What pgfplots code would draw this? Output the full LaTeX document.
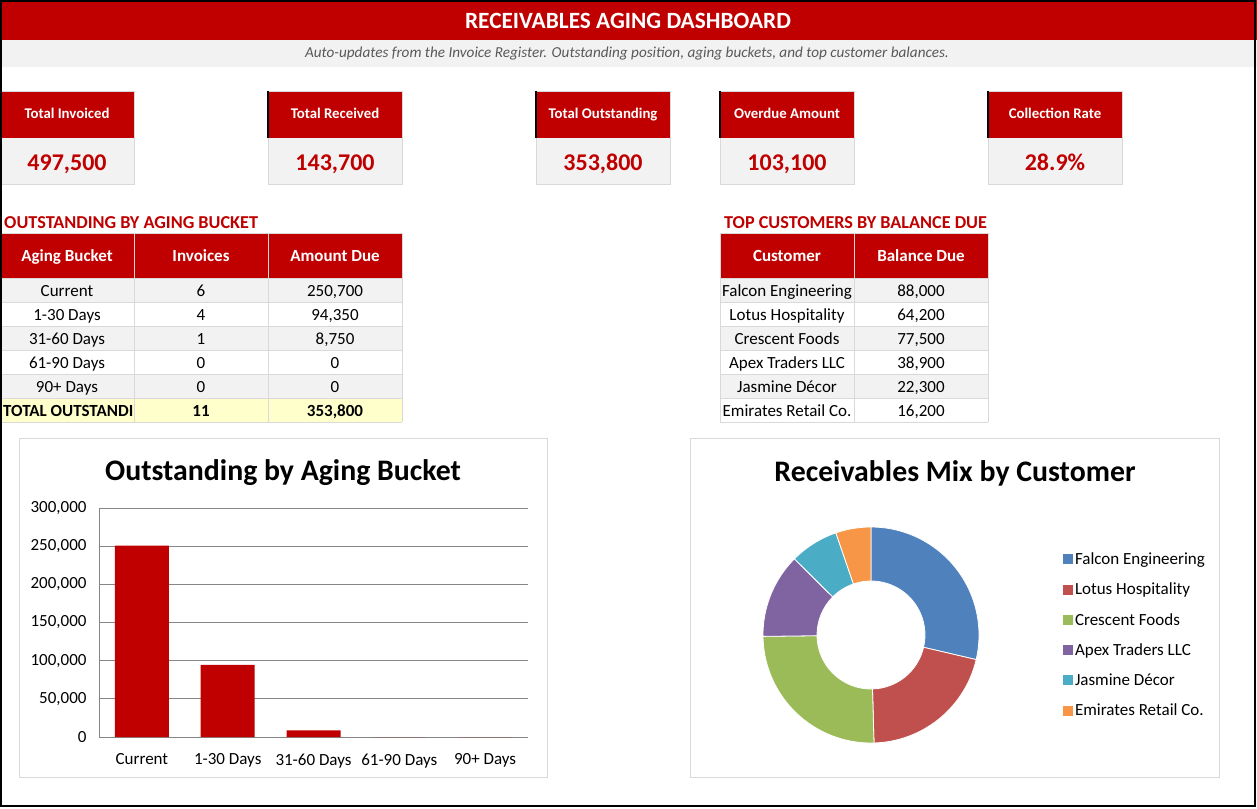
\documentclass[border=0pt]{standalone}
\usepackage{fontspec}
\setmainfont{Carlito}
\usepackage{pgfplots}
\pgfplotsset{compat=1.18}

\definecolor{xred}{HTML}{C00000}
\definecolor{lgray}{HTML}{F2F2F2}
\definecolor{gridc}{HTML}{D9D9D9}
\definecolor{axc}{HTML}{868686}
\definecolor{subt}{HTML}{595959}
\definecolor{tyellow}{HTML}{FFFFCC}
\definecolor{cA}{HTML}{4F81BD}
\definecolor{cB}{HTML}{C0504D}
\definecolor{cC}{HTML}{9BBB59}
\definecolor{cD}{HTML}{8064A2}
\definecolor{cE}{HTML}{4BACC6}
\definecolor{cF}{HTML}{F79646}

\newcommand{\fs}[1]{\fontsize{#1}{#1}\selectfont}

% customer balances (pie data)
\def\vA{88000}
\def\vB{64200}
\def\vC{77500}
\def\vD{38900}
\def\vE{22300}
\def\vF{16200}

\newcommand{\kpi}[3]{%
  \fill[xred] (#1,91) rectangle ++(134,47);
  \fill[lgray] (#1,138) rectangle ++(134,46);
  \draw[gridc] (#1,91) rectangle ++(134,93);
  \node[white,font=\bfseries\fs{14.8},text height=10.5pt,text depth=3pt,inner sep=0pt] at (#1+67,115) {#2};
  \node[xred,font=\bfseries\fs{24},text height=17pt,text depth=4pt,inner sep=0pt] at (#1+67,163.5) {#3};
}

\tikzset{cell/.style={font=\fs{17}, text height=12pt, text depth=3.5pt, inner sep=0pt},
         hcell/.style={cell, font=\bfseries\fs{17}, white}}

\begin{document}
\begin{tikzpicture}
\useasboundingbox (0,0) rectangle (1257pt,-808pt);
\begin{scope}[x=1pt,y=-1pt]
  \fill[white] (0,0) rectangle (1257,808);
  % header
  \fill[xred] (0,0) rectangle (1257,40);
  \node[white,font=\bfseries\fs{23.3}] at (628,21) {RECEIVABLES AGING DASHBOARD};
  \fill[lgray] (0,40) rectangle (1257,67);
  \node[subt,font=\itshape\fs{15.2}] at (627,54) {Auto-updates from the Invoice Register. Outstanding position, aging buckets, and top customer balances.};
  % KPI cards
  \kpi{0}{Total Invoiced}{497,500}
  \kpi{268}{Total Received}{143,700}
  \kpi{536}{Total Outstanding}{353,800}
  \kpi{720}{Overdue Amount}{103,100}
  \kpi{988}{Collection Rate}{28.9\%}
  \foreach \xx in {268,536,720,988} {\draw[black,line width=2pt] (\xx,91) -- (\xx,138);}
  % section titles
  \node[xred,font=\bfseries\fs{18.2},anchor=west,inner sep=0pt] at (4,222.5) {OUTSTANDING BY AGING BUCKET};
  \node[xred,font=\bfseries\fs{18.2},anchor=west,inner sep=0pt] at (724,222.5) {TOP CUSTOMERS BY BALANCE DUE};
  % table 1
  \fill[xred] (0,233) rectangle (402,278);
  \fill[lgray] (0,278) rectangle (402,302);
  \fill[lgray] (0,326) rectangle (402,350);
  \fill[lgray] (0,374) rectangle (402,398);
  \fill[tyellow] (0,398) rectangle (402,422);
  \foreach \yy in {233,278,302,326,350,374,398,422} {\draw[gridc] (0,\yy) -- (402,\yy);}
  \foreach \xx in {134,268,402} {\draw[gridc] (\xx,233) -- (\xx,422);}
  \node[hcell] at (67,257) {Aging Bucket};
  \node[hcell] at (201,257) {Invoices};
  \node[hcell] at (335,257) {Amount Due};
  \node[cell] at (67,292) {Current};     \node[cell] at (201,292) {6}; \node[cell] at (335,292) {250,700};
  \node[cell] at (67,316) {1-30 Days};   \node[cell] at (201,316) {4}; \node[cell] at (335,316) {94,350};
  \node[cell] at (67,340) {31-60 Days};  \node[cell] at (201,340) {1}; \node[cell] at (335,340) {8,750};
  \node[cell] at (67,364) {61-90 Days};  \node[cell] at (201,364) {0}; \node[cell] at (335,364) {0};
  \node[cell] at (67,388) {90+ Days};    \node[cell] at (201,388) {0}; \node[cell] at (335,388) {0};
  \begin{scope}
    \clip (0,399) rectangle (133.5,421);
    \node[cell,font=\bfseries\fs{17},anchor=west] at (3,412) {TOTAL OUTSTANDING};
  \end{scope}
  \node[cell,font=\bfseries\fs{17}] at (201,412) {11};
  \node[cell,font=\bfseries\fs{17}] at (335,412) {353,800};
  % table 2
  \fill[xred] (720,233) rectangle (988,278);
  \fill[lgray] (720,278) rectangle (988,302);
  \fill[lgray] (720,326) rectangle (988,350);
  \fill[lgray] (720,374) rectangle (988,398);
  \foreach \yy in {233,278,302,326,350,374,398,422} {\draw[gridc] (720,\yy) -- (988,\yy);}
  \foreach \xx in {720,854,988} {\draw[gridc] (\xx,233) -- (\xx,422);}
  \node[hcell] at (787,257) {Customer};
  \node[hcell] at (921,257) {Balance Due};
  \node[cell] at (787,292) {Falcon Engineering};  \node[cell] at (921,292) {88,000};
  \node[cell] at (787,316) {Lotus Hospitality};   \node[cell] at (921,316) {64,200};
  \node[cell] at (787,340) {Crescent Foods};      \node[cell] at (921,340) {77,500};
  \node[cell] at (787,364) {Apex Traders LLC};    \node[cell] at (921,364) {38,900};
  \node[cell] at (787,388) {Jasmine Décor};       \node[cell] at (921,388) {22,300};
  \node[cell] at (787,412) {Emirates Retail Co.}; \node[cell] at (921,412) {16,200};
  % chart boxes
  \draw[gridc] (19.5,438.5) rectangle (547.5,777.5);
  \draw[gridc] (690.5,438.5) rectangle (1219.5,777.5);
  \node[font=\bfseries\fs{29.8}] at (283,473) {Outstanding by Aging Bucket};
  \node[font=\bfseries\fs{29.8}] at (955,473) {Receivables Mix by Customer};
  % outer frame
  \draw[black,line width=2pt] (1,1) rectangle (1255,806);
\end{scope}

% bar chart
\begin{axis}[
  at={(99pt,-737pt)}, anchor=south west, scale only axis,
  width=429pt, height=229pt,
  xmin=-0.5, xmax=4.5, ymin=0, ymax=300000,
  ybar, bar width=54pt,
  xtick={0,1,2,3,4},
  xticklabels={Current,1-30 Days,31-60 Days,61-90 Days,90+ Days},
  ytick={0,50000,100000,150000,200000,250000,300000},
  ymajorgrids, grid style={axc, line width=0.8pt},
  axis x line*=bottom, axis y line*=left,
  axis line style={axc, line width=0.8pt, -},
  major tick length=0pt,
  tick label style={font=\fs{17}},
  yticklabel style={xshift=-9pt},
  xticklabel style={yshift=-13pt},
  scaled y ticks=false,
  /pgf/number format/.cd, fixed, 1000 sep={,}, assume math mode=true,
]
\addplot[fill=xred, draw=none] coordinates {(0,250700) (1,94350) (2,8750) (3,0) (4,0)};
\end{axis}

% donut chart
\pgfkeys{/pgf/fpu=true,/pgf/fpu/output format=fixed}
\pgfmathsetmacro{\tot}{\vA+\vB+\vC+\vD+\vE+\vF}
\pgfmathsetmacro{\aA}{90}
\pgfmathsetmacro{\aB}{\aA-360*\vA/\tot}
\pgfmathsetmacro{\aC}{\aB-360*\vB/\tot}
\pgfmathsetmacro{\aD}{\aC-360*\vC/\tot}
\pgfmathsetmacro{\aE}{\aD-360*\vD/\tot}
\pgfmathsetmacro{\aF}{\aE-360*\vE/\tot}
\pgfmathsetmacro{\aG}{\aF-360*\vF/\tot}
\pgfkeys{/pgf/fpu=false}

\begin{axis}[
  at={(871pt,-635pt)}, anchor=center,
  x=108pt, y=108pt, xmin=-1, xmax=1, ymin=-1, ymax=1,
  hide axis, clip=false,
  legend style={at={(1.374,0.5)}, anchor=west, draw=none, fill=none,
    font=\fs{17}, row sep=13pt},
  legend cell align=left,
  legend image code/.code={\fill[#1,draw=none] (-2pt,-5pt) rectangle (8pt,5pt);},
]
\addplot[fill=cA, draw=white, line width=0.8pt, domain=\aB:\aA, samples=80]
  ({cos(x)},{sin(x)}) -- ([shift={(\aA:54pt)}]axis cs:0,0) arc[start angle=\aA, end angle=\aB, radius=54pt] -- cycle;
\addlegendentry{Falcon Engineering}
\addplot[fill=cB, draw=white, line width=0.8pt, domain=\aC:\aB, samples=80]
  ({cos(x)},{sin(x)}) -- ([shift={(\aB:54pt)}]axis cs:0,0) arc[start angle=\aB, end angle=\aC, radius=54pt] -- cycle;
\addlegendentry{Lotus Hospitality}
\addplot[fill=cC, draw=white, line width=0.8pt, domain=\aD:\aC, samples=80]
  ({cos(x)},{sin(x)}) -- ([shift={(\aC:54pt)}]axis cs:0,0) arc[start angle=\aC, end angle=\aD, radius=54pt] -- cycle;
\addlegendentry{Crescent Foods}
\addplot[fill=cD, draw=white, line width=0.8pt, domain=\aE:\aD, samples=60]
  ({cos(x)},{sin(x)}) -- ([shift={(\aD:54pt)}]axis cs:0,0) arc[start angle=\aD, end angle=\aE, radius=54pt] -- cycle;
\addlegendentry{Apex Traders LLC}
\addplot[fill=cE, draw=white, line width=0.8pt, domain=\aF:\aE, samples=40]
  ({cos(x)},{sin(x)}) -- ([shift={(\aE:54pt)}]axis cs:0,0) arc[start angle=\aE, end angle=\aF, radius=54pt] -- cycle;
\addlegendentry{Jasmine Décor}
\addplot[fill=cF, draw=white, line width=0.8pt, domain=\aG:\aF, samples=40]
  ({cos(x)},{sin(x)}) -- ([shift={(\aF:54pt)}]axis cs:0,0) arc[start angle=\aF, end angle=\aG, radius=54pt] -- cycle;
\addlegendentry{Emirates Retail Co.}
\end{axis}
\end{tikzpicture}
\end{document}
